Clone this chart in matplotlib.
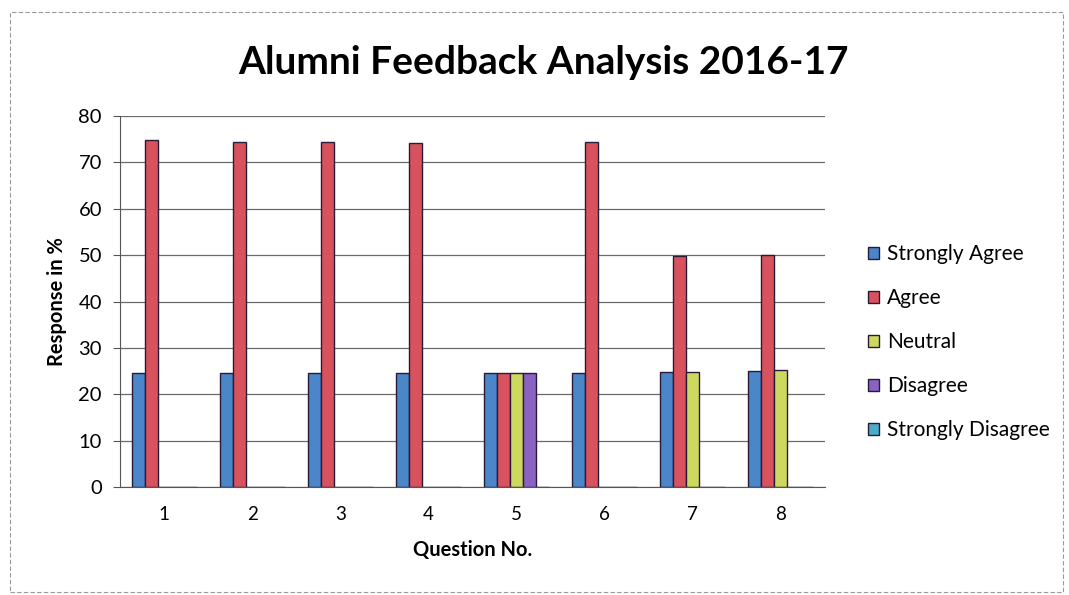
import matplotlib
matplotlib.use('Agg')
import matplotlib.pyplot as plt
from matplotlib.patches import Rectangle
import numpy as np

plt.rcParams['font.family'] = ['Lato', 'DejaVu Sans']

# 設問番号と回答割合（%）
questions = ['1', '2', '3', '4', '5', '6', '7', '8']
series_names = ['Strongly Agree', 'Agree', 'Neutral', 'Disagree', 'Strongly Disagree']
strongly_agree = [24.6, 24.5, 24.5, 24.5, 24.5, 24.5, 24.8, 25.0]
agree = [74.8, 74.4, 74.3, 74.2, 24.5, 74.3, 49.8, 50.0]
neutral = [0, 0, 0, 0, 24.5, 0, 24.9, 25.2]
disagree = [0, 0, 0, 0, 24.5, 0, 0, 0]
strongly_disagree = [0, 0, 0, 0, 0, 0, 0, 0]
colors = ['#4a86c8', '#d9535e', '#cdd85e', '#8a62c2', '#4bacc6']

fig = plt.figure(figsize=(10.69, 5.95), dpi=100)
ax = fig.add_axes([0.1123, 0.1815, 0.6594, 0.6235])

# 外枠
fig.patches.append(Rectangle((0.009, 0.005), 0.985, 0.975, transform=fig.transFigure,
                             fill=False, edgecolor='#9a9a9a', lw=0.8, linestyle=(0, (4, 2))))

x = np.arange(len(questions))
w = 13 / 88
data = [strongly_agree, agree, neutral, disagree, strongly_disagree]
for i, (vals, name, c) in enumerate(zip(data, series_names, colors)):
    ax.bar(x + (i - 2) * w, vals, width=w, color=c, edgecolor='#2a1a3a', lw=1.0, label=name)

ax.set_xlim(-0.5, len(questions) - 0.5)
ax.set_ylim(0, 80)
ax.set_yticks(range(0, 81, 10))
ax.set_xticks(x)
ax.set_xticklabels(questions)
ax.grid(axis='y', color='#6a6a6a', lw=0.9)
ax.set_axisbelow(True)
for s in ['top', 'right']:
    ax.spines[s].set_visible(False)
ax.spines['left'].set_color('#555555')
ax.spines['bottom'].set_color('#555555')
ax.tick_params(axis='y', length=5, color='#555555', labelsize=14.5, pad=8)
ax.tick_params(axis='x', length=0, labelsize=13.5, pad=14)

ax.set_xlabel('Question No.', fontsize=14.5, fontweight='bold', labelpad=12)
ax.set_ylabel('Response in %', fontsize=14.5, fontweight='bold', labelpad=8)
fig.text(0.508, 0.895, 'Alumni Feedback Analysis 2016-17', ha='center', va='center',
         fontsize=28, fontweight='bold')

leg = ax.legend(loc='center left', bbox_to_anchor=(1.035, 0.39), frameon=False,
                fontsize=15, handlelength=0.5, handleheight=0.5, handletextpad=0.4,
                labelspacing=1.15)

fig.savefig('out.png', dpi=100)
